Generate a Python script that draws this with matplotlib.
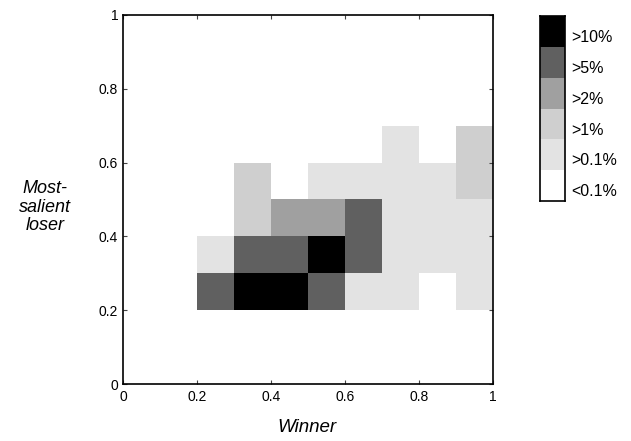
import matplotlib
matplotlib.use("Agg")
import matplotlib.pyplot as plt
import numpy as np
from matplotlib.colors import ListedColormap, BoundaryNorm

plt.rcParams['font.family'] = ['Liberation Sans', 'DejaVu Sans']

# bin edges
x_edges = np.round(np.arange(0, 1.01, 0.1), 2)
y_edges = np.round(np.arange(0, 1.01, 0.1), 2)

# level per cell: 0 '<0.1%', 1 '>0.1%', 2 '>1%', 3 '>2%', 4 '>5%', 5 '>10%'
# rows: y bins 0.0-0.1 ... 0.9-1.0 ; columns: x bins 0.0-0.1 ... 0.9-1.0
row_00 = [0, 0, 0, 0, 0, 0, 0, 0, 0, 0]
row_01 = [0, 0, 0, 0, 0, 0, 0, 0, 0, 0]
row_02 = [0, 0, 4, 5, 5, 4, 1, 1, 0, 1]
row_03 = [0, 0, 1, 4, 4, 5, 4, 1, 1, 1]
row_04 = [0, 0, 0, 2, 3, 3, 4, 1, 1, 1]
row_05 = [0, 0, 0, 2, 0, 1, 1, 1, 1, 2]
row_06 = [0, 0, 0, 0, 0, 0, 0, 1, 0, 2]
row_07 = [0, 0, 0, 0, 0, 0, 0, 0, 0, 0]
row_08 = [0, 0, 0, 0, 0, 0, 0, 0, 0, 0]
row_09 = [0, 0, 0, 0, 0, 0, 0, 0, 0, 0]
levels = np.array([row_00, row_01, row_02, row_03, row_04, row_05,
                   row_06, row_07, row_08, row_09])

legend_labels = ['<0.1%', '>0.1%', '>1%', '>2%', '>5%', '>10%']
level_colors = ['#ffffff', '#e3e3e3', '#cfcfcf', '#a0a0a0', '#606060', '#000000']

ticks = [0, 0.2, 0.4, 0.6, 0.8, 1]
tick_labels = ['0', '0.2', '0.4', '0.6', '0.8', '1']

cmap = ListedColormap(level_colors)
norm = BoundaryNorm(np.arange(-0.5, 6.5, 1), cmap.N)

fig = plt.figure(figsize=(6.31, 4.41), dpi=100)
ax = fig.add_axes([123/631, 1 - 384/441, 370/631, 369/441])
ax.pcolormesh(x_edges, y_edges, levels, cmap=cmap, norm=norm, shading='flat')
ax.set_xlim(0, 1)
ax.set_ylim(0, 1)
ax.set_xticks(ticks)
ax.set_xticklabels(tick_labels)
ax.set_yticks(ticks)
ax.set_yticklabels(tick_labels)
ax.tick_params(direction='in', length=3, width=0.8, top=True, right=True,
               labelsize=10, color='#444444')
ax.tick_params(axis='x', pad=4)
ax.tick_params(axis='y', pad=3.5)
for s in ax.spines.values():
    s.set_linewidth(1.2)
fig.text(307/631, 1 - 428/441, 'Winner', fontsize=13.5, style='italic',
         ha='center', va='center')
fig.text(45/631, 1 - 207/441, 'Most-\nsalient\nloser', fontsize=13,
         style='italic', ha='center', va='center', linespacing=1.1)

# legend color strip
cax = fig.add_axes([540/631, 1 - 201/441, 25/631, 185/441])
n = len(legend_labels)
cax.pcolormesh([0, 1], np.arange(n + 1), np.arange(n).reshape(-1, 1),
               cmap=cmap, norm=norm, shading='flat')
cax.set_xlim(0, 1)
cax.set_ylim(0, n)
cax.set_xticks([])
cax.set_yticks([])
for i, lab in enumerate(legend_labels):
    cax.text(1.25, i + 0.3, lab, fontsize=11.5, ha='left', va='center',
             transform=cax.transData, clip_on=False)
for s in cax.spines.values():
    s.set_linewidth(1.2)

fig.savefig('out.png', dpi=100)
